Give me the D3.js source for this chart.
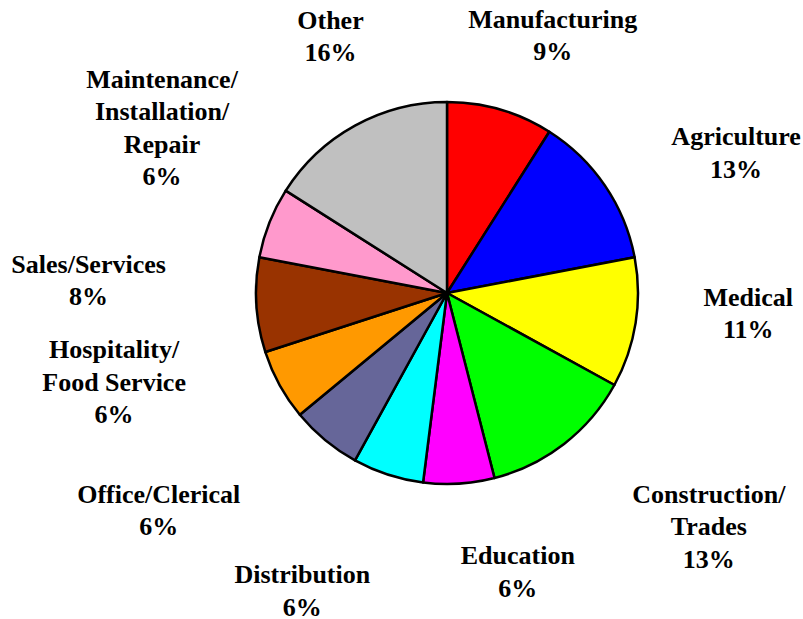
<!DOCTYPE html>
<html>
<head>
<meta charset="utf-8">
<script src="https://cdn.jsdelivr.net/npm/d3@7"></script>
<style>
	body	{ margin: 0; background: #fff; }
</style>
</head>
<body>
<script>
// slices, clockwise from 12 o'clock
var	categories	= ["Manufacturing", "Agriculture", "Medical", "Construction/\nTrades", "Education",
			   "Distribution", "Office/Clerical", "Hospitality/\nFood Service", "Sales/Services",
			   "Maintenance/\nInstallation/\nRepair", "Other"],
	shares		= [9, 13, 11, 13, 6, 6, 6, 6, 8, 6, 16],
	colors		= ["#ff0000", "#0000ff", "#ffff00", "#00ff00", "#ff00ff", "#00ffff",
			   "#666699", "#ff9900", "#993300", "#ff99cc", "#c0c0c0"];

// hand placed label offsets (like dragging labels in the original)
var	labelNudge	= [[22, 30], [41, 28], [5, -27], [78, -4], [52, -21], [-52, 12],
			   [-97, -14], [-70, -56], [-59, -32], [-6, -55], [28, 6]];

var	width	= 803, height = 619,
	cx	= 447, cy = 293,
	radius	= 191,
	lineH	= 32.5;

var	svg	= d3.select("body").append("svg")
		.attr("width", width).attr("height", height);

var	pie	= d3.pie().sort(null).value(function(d) { return d; }),
	arc	= d3.arc().innerRadius(0).outerRadius(radius),
	labelArc= d3.arc().innerRadius(300).outerRadius(300),
	arcs	= pie(shares);

var	g	= svg.append("g").attr("transform", "translate(" + cx + "," + cy + ")");

g.selectAll("path.slice").data(arcs).enter().append("path")
	.attr("class", "slice")
	.attr("d", arc)
	.attr("fill", function(d, i) { return colors[i]; })
	.attr("stroke", "#000")
	.attr("stroke-width", 2.5)
	.attr("stroke-linejoin", "round");

var	labels	= g.selectAll("g.label").data(arcs).enter().append("g")
		.attr("class", "label")
		.attr("transform", function(d, i) {
			var c = labelArc.centroid(d);
			return "translate(" + (c[0] + labelNudge[i][0]) + "," + (c[1] + labelNudge[i][1]) + ")";
		});

labels.each(function(d, i) {
	var	lines	= categories[i].split("\n").concat(shares[i] + "%"),
		y0	= -(lines.length - 1) * lineH / 2 + 9;
	d3.select(this).selectAll("text").data(lines).enter().append("text")
		.attr("x", 0)
		.attr("y", function(l, j) { return y0 + j * lineH; })
		.attr("text-anchor", "middle")
		.style("font-family", "'Liberation Serif'")
		.style("font-weight", "bold")
		.style("font-size", "26px")
		.text(function(l) { return l; });
});
</script>
</body>
</html>
